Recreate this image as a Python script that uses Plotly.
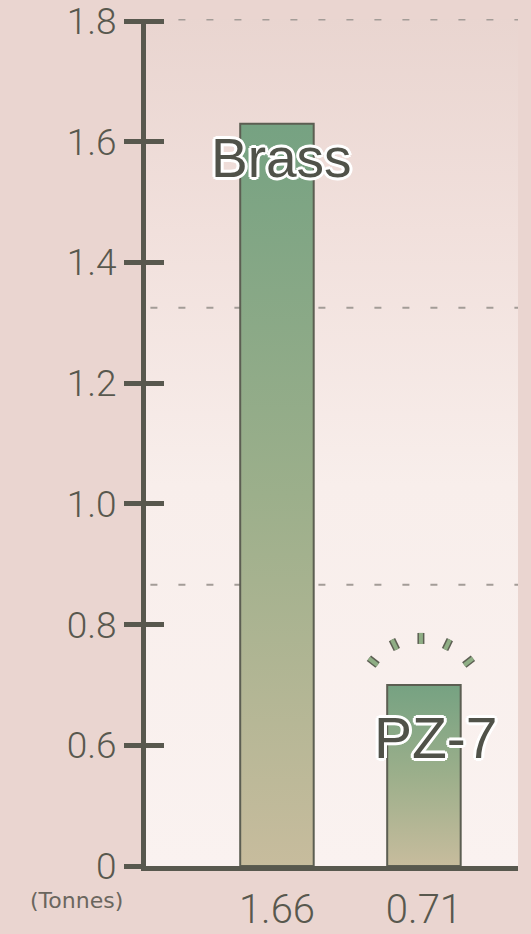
import math
import plotly.graph_objects as go

# ---------------- data ----------------
categories = ["Brass", "PZ-7"]
values = [1.63, 0.70]              # bar heights as drawn on the (broken) scale
value_labels = ["1.66", "0.71"]    # values printed under the bars
y_tick_values = [0.4, 0.6, 0.8, 1.0, 1.2, 1.4, 1.6, 1.8]
y_tick_labels = ["0", "0.6", "0.8", "1.0", "1.2", "1.4", "1.6", "1.8"]
guide_levels = [1.8025, 1.325, 0.866]
unit_label = "(Tonnes)"

# ---------------- layout constants ----------------
W, H = 531, 934
MARGIN = dict(l=146, r=13, t=19, b=68)
X_RANGE = [-0.891, 1.640]
Y_RANGE = [0.4, 1.8035]
BAR_W = 0.5
INK = "#58584e"
OUTER_BG = "#ead5d0"
PX_X = (W - MARGIN["l"] - MARGIN["r"]) / (X_RANGE[1] - X_RANGE[0])
PX_Y = (H - MARGIN["t"] - MARGIN["b"]) / (Y_RANGE[1] - Y_RANGE[0])

fig = go.Figure()

# inner panel with vertical gradient
fig.add_trace(go.Scatter(
    x=[X_RANGE[0], X_RANGE[0], X_RANGE[1], X_RANGE[1], X_RANGE[0]],
    y=[Y_RANGE[0], Y_RANGE[1], Y_RANGE[1], Y_RANGE[0], Y_RANGE[0]],
    mode="lines", fill="toself", line=dict(width=0),
    fillgradient=dict(type="vertical",
                      colorscale=[[0, "#faf2f0"], [0.45, "#f8eeeb"],
                                  [0.75, "#f1e0dc"], [1, "#e9d5d0"]]),
    hoverinfo="skip", showlegend=False))

# dashed guide lines
for lvl in guide_levels:
    fig.add_trace(go.Scatter(
        x=[X_RANGE[0] + 0.03, X_RANGE[1]], y=[lvl, lvl], mode="lines",
        line=dict(color="#a39c97", width=2, dash="7px,21px"),
        cliponaxis=False, hoverinfo="skip", showlegend=False))

# bars (gradient filled rectangles built from the values)
for i, (cat, v) in enumerate(zip(categories, values)):
    x0, x1 = i - BAR_W / 2, i + BAR_W / 2
    fig.add_trace(go.Scatter(
        x=[x0, x0, x1, x1, x0], y=[Y_RANGE[0], v, v, Y_RANGE[0], Y_RANGE[0]],
        mode="lines", fill="toself", name=cat,
        line=dict(color="#5c5e52", width=2),
        fillgradient=dict(type="vertical",
                          colorscale=[[0, "#c7bc9d"], [0.5, "#9caf8b"], [1, "#76a282"]]),
        showlegend=False))

# little "shine" rays above PZ-7
cx = 1 - 3 / PX_X
cy = values[1] - 14 / PX_Y
rx, ry = [], []
for ang in [-52, -26, 0, 26, 52]:
    a = math.radians(ang)
    r0, r1 = 55, 66
    rx += [cx + r0 * math.sin(a) / PX_X, cx + r1 * math.sin(a) / PX_X, None]
    ry += [cy + r0 * math.cos(a) / PX_Y, cy + r1 * math.cos(a) / PX_Y, None]
fig.add_trace(go.Scatter(x=rx, y=ry, yaxis="y2", mode="lines",
                         line=dict(color="#5c5e52", width=7),
                         hoverinfo="skip", showlegend=False))
fig.add_trace(go.Scatter(x=rx, y=ry, yaxis="y2", mode="lines",
                         line=dict(color="#8fae85", width=4),
                         hoverinfo="skip", showlegend=False))

outline = ("3px 0 0 #fff, -3px 0 0 #fff, 0 3px 0 #fff, 0 -3px 0 #fff, "
           "2px 2px 0 #fff, -2px -2px 0 #fff, 2px -2px 0 #fff, -2px 2px 0 #fff")
label_pos = [(0.03, 1.573), (1.08, 0.612)]
label_size = [55, 57]
for cat, (lx, ly), sz in zip(categories, label_pos, label_size):
    fig.add_annotation(x=lx, y=ly, text=cat, showarrow=False,
                       font=dict(family="Liberation Sans, Arial", size=sz,
                                 color="#505249", shadow=outline))

fig.add_annotation(xref="paper", yref="paper", x=-0.188, y=-0.041, text=unit_label,
                   showarrow=False, xanchor="center", yanchor="middle",
                   font=dict(family="DejaVu Sans", size=22, color="#6a665e"))

tickfont_y = dict(family="Roboto", size=37, color=INK, weight=300)
tickfont_x = dict(family="Roboto", size=40, color=INK, weight=300)

fig.update_layout(
    width=W, height=H, margin=MARGIN,
    paper_bgcolor=OUTER_BG, plot_bgcolor=OUTER_BG,
    xaxis=dict(range=X_RANGE, showgrid=False, zeroline=False, automargin=False,
               showline=True, linewidth=5, linecolor=INK,
               tickvals=list(range(len(categories))), ticktext=value_labels,
               ticks="", tickfont=tickfont_x, ticklabelstandoff=4,
               ticklabeloverflow="allow"),
    yaxis=dict(range=Y_RANGE, showgrid=False, zeroline=False, automargin=False,
               showline=True, linewidth=5, linecolor=INK,
               tickvals=y_tick_values, ticktext=y_tick_labels,
               ticks="outside", ticklen=17, tickwidth=5, tickcolor=INK,
               tickfont=tickfont_y, ticklabelstandoff=0,
               ticklabeloverflow="allow"),
    yaxis2=dict(range=Y_RANGE, overlaying="y", side="left", anchor="x",
                automargin=False,
                showgrid=False, zeroline=False, showline=False,
                tickvals=y_tick_values, ticks="inside", ticklen=18,
                tickwidth=5, tickcolor=INK, showticklabels=False),
    showlegend=False,
)

fig.write_html("out.html", config={"displayModeBar": False},
               post_script="document.body.style.margin='0';"
                           "document.body.style.overflow='hidden';")
